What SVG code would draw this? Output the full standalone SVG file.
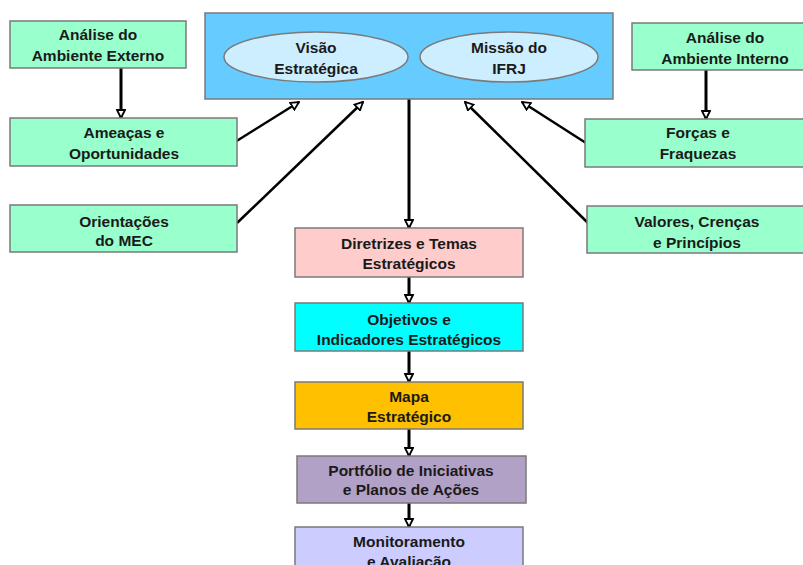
<svg xmlns="http://www.w3.org/2000/svg" width="803" height="565" viewBox="0 0 803 565">
<style>
.box{stroke:#7a7a7a;stroke-width:1.5}
.g{fill:#99FFCC}
.t{font-family:"Liberation Sans",Arial,sans-serif;font-weight:bold;font-size:15.5px;fill:#1a1a1a;text-anchor:middle}
.c{stroke:#000;fill:none}
.v{stroke-width:3}
.d{stroke-width:2.5}
</style>
<defs>
<marker id="ah" viewBox="0 0 10 10" refX="9" refY="5" markerWidth="10" markerHeight="10" markerUnits="userSpaceOnUse" orient="auto">
<path d="M1,1 L9,5 L1,9 z" fill="#fff" stroke="#000" stroke-width="1.8"/>
</marker>
</defs>
<rect width="803" height="565" fill="#fff"/>
<g id="connectors">
<line class="c v" x1="121" y1="68" x2="121" y2="118" marker-end="url(#ah)"/>
<line class="c v" x1="706" y1="70" x2="706" y2="119" marker-end="url(#ah)"/>
<line class="c d" x1="235" y1="142" x2="299" y2="102" marker-end="url(#ah)"/>
<line class="c d" x1="237" y1="223" x2="363" y2="102" marker-end="url(#ah)"/>
<line class="c d" x1="586" y1="143" x2="522" y2="102" marker-end="url(#ah)"/>
<line class="c d" x1="588" y1="223" x2="465" y2="102" marker-end="url(#ah)"/>
<line class="c v" x1="409" y1="99" x2="409" y2="228" marker-end="url(#ah)"/>
<line class="c v" x1="409" y1="277" x2="409" y2="303" marker-end="url(#ah)"/>
<line class="c v" x1="409" y1="351" x2="409" y2="382" marker-end="url(#ah)"/>
<line class="c v" x1="409" y1="429" x2="409" y2="456" marker-end="url(#ah)"/>
<line class="c v" x1="409" y1="503" x2="409" y2="527" marker-end="url(#ah)"/>
</g>
<g id="top">
<rect class="box" x="205" y="13" width="408" height="86" fill="#66CCFF"/>
</g>
<g id="visao">
<ellipse class="box" cx="316" cy="57" rx="92" ry="25" fill="#CCEEFF" stroke="#555"/>
<text class="t" x="316" y="53">Visão</text>
<text class="t" x="316" y="74">Estratégica</text>
</g>
<g id="missao">
<ellipse class="box" cx="509" cy="57" rx="89" ry="25" fill="#CCEEFF" stroke="#555"/>
<text class="t" x="509" y="53">Missão do</text>
<text class="t" x="509" y="74">IFRJ</text>
</g>
<g id="externo">
<rect class="box g" x="10" y="21" width="176" height="47"/>
<text class="t" x="98" y="40">Análise do</text>
<text class="t" x="98" y="61">Ambiente Externo</text>
</g>
<g id="ameacas">
<rect class="box g" x="10" y="118" width="227" height="48"/>
<text class="t" x="124" y="138">Ameaças e</text>
<text class="t" x="124" y="159">Oportunidades</text>
</g>
<g id="mec">
<rect class="box g" x="10" y="205" width="227" height="47"/>
<text class="t" x="124" y="227">Orientações</text>
<text class="t" x="124" y="246">do MEC</text>
</g>
<g id="interno">
<rect class="box g" x="632" y="23" width="180" height="47"/>
<text class="t" x="725" y="43">Análise do</text>
<text class="t" x="725" y="64">Ambiente Interno</text>
</g>
<g id="forcas">
<rect class="box g" x="585" y="119" width="230" height="48"/>
<text class="t" x="698" y="138">Forças e</text>
<text class="t" x="698" y="159">Fraquezas</text>
</g>
<g id="valores">
<rect class="box g" x="587" y="206" width="230" height="47"/>
<text class="t" x="697" y="227">Valores, Crenças</text>
<text class="t" x="697" y="248">e Princípios</text>
</g>
<g id="diretrizes">
<rect class="box" x="295" y="228" width="228" height="49" fill="#FFCCCC"/>
<text class="t" x="409" y="249">Diretrizes e Temas</text>
<text class="t" x="409" y="269">Estratégicos</text>
</g>
<g id="objetivos">
<rect class="box" x="295" y="303" width="228" height="48" fill="#00FFFF"/>
<text class="t" x="409" y="325">Objetivos e</text>
<text class="t" x="409" y="345">Indicadores Estratégicos</text>
</g>
<g id="mapa">
<rect class="box" x="295" y="382" width="228" height="47" fill="#FFC000"/>
<text class="t" x="409" y="402">Mapa</text>
<text class="t" x="409" y="422">Estratégico</text>
</g>
<g id="portfolio">
<rect class="box" x="297" y="456" width="229" height="47" fill="#B2A1C7"/>
<text class="t" x="411" y="476">Portfólio de Iniciativas</text>
<text class="t" x="411" y="495">e Planos de Ações</text>
</g>
<g id="monitoramento">
<rect class="box" x="295" y="527" width="228" height="50" fill="#CCCCFF"/>
<text class="t" x="409" y="547">Monitoramento</text>
<text class="t" x="409" y="567">e Avaliação</text>
</g>
</svg>
